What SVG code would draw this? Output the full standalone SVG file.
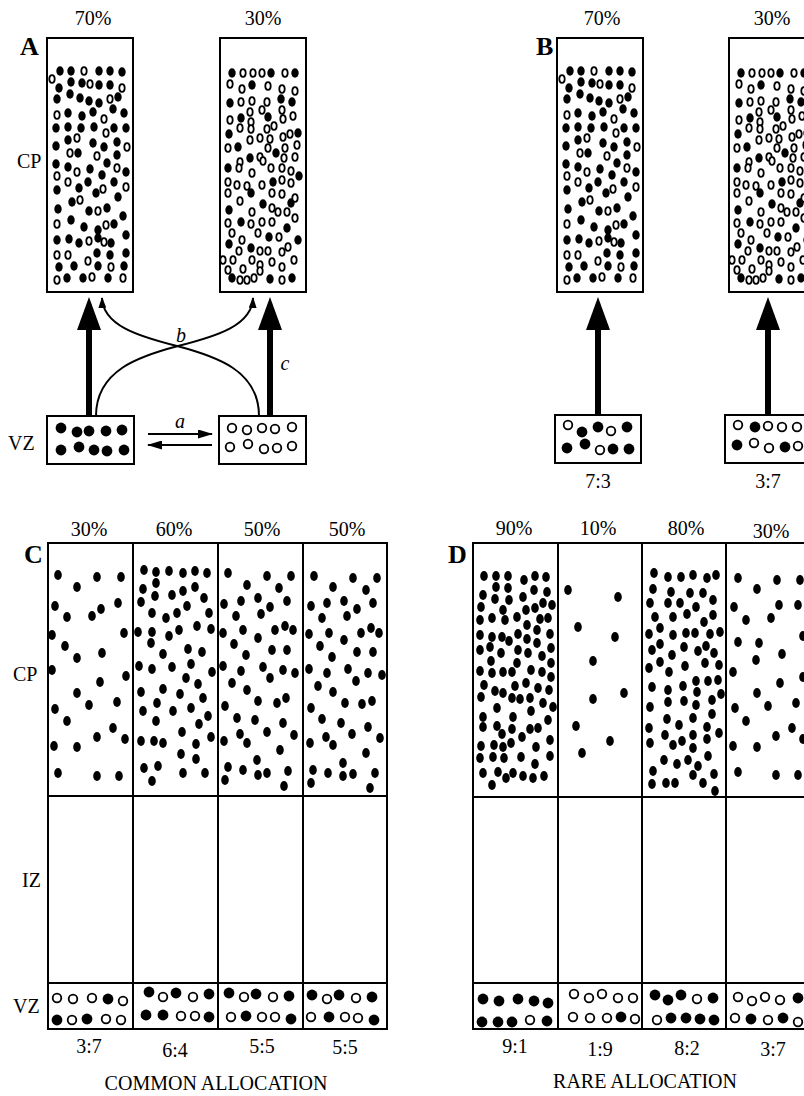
<svg xmlns="http://www.w3.org/2000/svg" xmlns:xlink="http://www.w3.org/1999/xlink" width="804" height="1096" viewBox="0 0 804 1096">
<style>
text{font-family:"Liberation Serif","Times New Roman",serif;font-size:20px;fill:#000}
.lab{font-weight:bold;font-size:26px}
.it{font-style:italic}
.m{text-anchor:middle}
.box{fill:#fff;stroke:#000;stroke-width:2}
.ln{stroke:#000;stroke-width:2;fill:none}
.thick{stroke:#000;stroke-width:6;fill:none}
</style>
<defs>
<!-- cortical plate cells: filled = one lineage, open = other lineage -->
<ellipse id="f" rx="3.7" ry="4.7" fill="#000"/>
<ellipse id="o" rx="2.7" ry="3.8" fill="#fff" stroke="#000" stroke-width="1.8"/>
<!-- cortical plate cells in panels C and D -->
<ellipse id="g" rx="3.8" ry="4.9" fill="#000"/>
<!-- ventricular zone progenitors -->
<circle id="F" r="5.4" fill="#000"/>
<circle id="O" r="4.3" fill="#fff" stroke="#000" stroke-width="1.8"/>
<marker id="big" viewBox="0 0 33 24" refX="0" refY="12" markerUnits="userSpaceOnUse" markerWidth="33" markerHeight="24" orient="auto">
<path d="M0,0 L33,12 L0,24 z" fill="#000"/>
</marker>
<marker id="thin" viewBox="0 0 11 8" refX="10" refY="4" markerUnits="userSpaceOnUse" markerWidth="11" markerHeight="8" orient="auto">
<path d="M0,0 L11,4 L0,8 z" fill="#000"/>
</marker>
<marker id="mid" viewBox="0 0 15 9" refX="14" refY="4.5" markerUnits="userSpaceOnUse" markerWidth="15" markerHeight="9" orient="auto">
<path d="M0,0 L15,4.5 L0,9 z" fill="#000"/>
</marker>
</defs>
<rect width="804" height="1096" fill="#fff"/>

<!-- ===== Panel A ===== -->
<g id="A-labels">
<text x="20" y="55" class="lab">A</text>
<text x="93" y="25" class="m">70%</text>
<text x="263" y="25" class="m">30%</text>
<text x="17" y="168" font-size="19">CP</text>
<text x="8" y="450" font-size="21">VZ</text>
</g>

<g id="cpA1">
<rect class="box" x="47" y="38" width="86" height="254"/>
<use href="#f" x="60" y="71"/><use href="#f" x="71" y="71"/><use href="#f" x="99" y="71"/><use href="#f" x="110" y="71"/><use href="#f" x="122" y="72"/>
<use href="#f" x="71" y="82"/><use href="#f" x="82" y="83"/><use href="#f" x="99" y="85"/><use href="#f" x="110" y="85"/><use href="#f" x="59" y="88"/><use href="#f" x="70" y="94"/>
<use href="#f" x="57" y="99"/><use href="#f" x="80" y="98"/><use href="#f" x="89" y="101"/><use href="#f" x="99" y="103"/><use href="#f" x="118" y="97"/><use href="#f" x="113" y="109"/>
<use href="#f" x="68" y="113"/><use href="#f" x="82" y="116"/><use href="#f" x="93" y="112"/><use href="#f" x="124" y="113"/>
<use href="#f" x="56" y="128"/><use href="#f" x="68" y="127"/><use href="#f" x="81" y="128"/><use href="#f" x="94" y="127"/><use href="#f" x="114" y="128"/><use href="#f" x="126" y="128"/>
<use href="#f" x="68" y="140"/><use href="#f" x="56" y="146"/><use href="#f" x="93" y="143"/><use href="#f" x="104" y="147"/><use href="#f" x="117" y="142"/><use href="#f" x="78" y="153"/><use href="#f" x="117" y="155"/>
<use href="#f" x="56" y="164"/><use href="#f" x="68" y="167"/><use href="#f" x="90" y="169"/><use href="#f" x="107" y="163"/><use href="#f" x="126" y="172"/>
<use href="#f" x="88" y="182"/><use href="#f" x="102" y="175"/><use href="#f" x="114" y="182"/><use href="#f" x="57" y="190"/><use href="#f" x="79" y="188"/><use href="#f" x="96" y="193"/>
<use href="#f" x="72" y="202"/><use href="#f" x="118" y="197"/><use href="#f" x="58" y="209"/><use href="#f" x="89" y="211"/><use href="#f" x="107" y="208"/><use href="#f" x="123" y="216"/>
<use href="#f" x="71" y="220"/><use href="#f" x="84" y="227"/><use href="#f" x="98" y="230"/><use href="#f" x="114" y="224"/><use href="#f" x="126" y="235"/>
<use href="#f" x="57" y="240"/><use href="#f" x="69" y="239"/><use href="#f" x="79" y="243"/><use href="#f" x="98" y="238"/><use href="#f" x="111" y="243"/>
<use href="#f" x="97" y="253"/><use href="#f" x="110" y="255"/><use href="#f" x="126" y="253"/><use href="#f" x="59" y="267"/><use href="#f" x="74" y="266"/><use href="#f" x="98" y="266"/><use href="#f" x="124" y="266"/>
<use href="#f" x="67" y="278"/><use href="#f" x="83" y="278"/><use href="#f" x="108" y="278"/>
<use href="#o" x="84" y="71"/><use href="#o" x="52" y="79"/><use href="#o" x="90" y="84"/><use href="#o" x="122" y="88"/><use href="#o" x="110" y="99"/>
<use href="#o" x="57" y="115"/><use href="#o" x="104" y="119"/><use href="#o" x="106" y="133"/><use href="#o" x="77" y="138"/><use href="#o" x="127" y="147"/>
<use href="#o" x="70" y="153"/><use href="#o" x="97" y="156"/><use href="#o" x="117" y="168"/><use href="#o" x="57" y="176"/><use href="#o" x="77" y="172"/>
<use href="#o" x="68" y="182"/><use href="#o" x="126" y="187"/><use href="#o" x="103" y="189"/><use href="#o" x="80" y="200"/><use href="#o" x="98" y="211"/>
<use href="#o" x="57" y="224"/><use href="#o" x="106" y="225"/><use href="#o" x="89" y="241"/><use href="#o" x="104" y="242"/><use href="#o" x="57" y="255"/>
<use href="#o" x="68" y="255"/><use href="#o" x="88" y="261"/><use href="#o" x="111" y="267"/><use href="#o" x="57" y="280"/><use href="#o" x="92" y="277"/><use href="#o" x="123" y="278"/>
</g>

<g id="cpA2">
<rect class="box" x="220" y="38" width="86" height="254"/>
<use href="#f" x="232" y="73"/><use href="#f" x="271" y="73"/><use href="#f" x="295" y="73"/><use href="#f" x="252" y="85"/><use href="#f" x="230" y="103"/><use href="#f" x="281" y="99"/>
<use href="#f" x="292" y="102"/><use href="#f" x="241" y="118"/><use href="#f" x="268" y="117"/><use href="#f" x="229" y="134"/><use href="#f" x="298" y="133"/><use href="#f" x="238" y="147"/>
<use href="#f" x="276" y="153"/><use href="#f" x="250" y="158"/><use href="#f" x="228" y="168"/><use href="#f" x="299" y="176"/><use href="#f" x="273" y="182"/><use href="#f" x="251" y="193"/>
<use href="#f" x="291" y="203"/><use href="#f" x="263" y="204"/><use href="#f" x="229" y="210"/><use href="#f" x="241" y="222"/><use href="#f" x="287" y="228"/><use href="#f" x="269" y="237"/>
<use href="#f" x="298" y="240"/><use href="#f" x="229" y="244"/><use href="#f" x="251" y="248"/><use href="#f" x="232" y="278"/><use href="#f" x="270" y="279"/><use href="#f" x="292" y="278"/>
<use href="#o" x="243" y="73"/><use href="#o" x="253" y="73"/><use href="#o" x="262" y="73"/><use href="#o" x="285" y="73"/><use href="#o" x="230" y="84"/><use href="#o" x="242" y="89"/>
<use href="#o" x="268" y="86"/><use href="#o" x="282" y="89"/><use href="#o" x="295" y="91"/><use href="#o" x="241" y="102"/><use href="#o" x="252" y="101"/><use href="#o" x="267" y="102"/>
<use href="#o" x="250" y="112"/><use href="#o" x="262" y="110"/><use href="#o" x="282" y="110"/><use href="#o" x="230" y="120"/><use href="#o" x="251" y="122"/><use href="#o" x="283" y="119"/>
<use href="#o" x="293" y="116"/><use href="#o" x="240" y="128"/><use href="#o" x="251" y="129"/><use href="#o" x="267" y="129"/><use href="#o" x="274" y="126"/><use href="#o" x="283" y="137"/>
<use href="#o" x="290" y="134"/><use href="#o" x="250" y="140"/><use href="#o" x="260" y="138"/><use href="#o" x="270" y="139"/><use href="#o" x="228" y="148"/><use href="#o" x="268" y="148"/>
<use href="#o" x="285" y="148"/><use href="#o" x="297" y="145"/><use href="#o" x="260" y="157"/><use href="#o" x="240" y="162"/><use href="#o" x="263" y="161"/><use href="#o" x="284" y="158"/>
<use href="#o" x="295" y="157"/><use href="#o" x="239" y="168"/><use href="#o" x="252" y="173"/><use href="#o" x="271" y="168"/><use href="#o" x="282" y="168"/><use href="#o" x="291" y="171"/>
<use href="#o" x="228" y="182"/><use href="#o" x="237" y="185"/><use href="#o" x="247" y="186"/><use href="#o" x="262" y="185"/><use href="#o" x="282" y="180"/><use href="#o" x="291" y="183"/>
<use href="#o" x="228" y="193"/><use href="#o" x="272" y="193"/><use href="#o" x="282" y="194"/><use href="#o" x="295" y="198"/><use href="#o" x="240" y="201"/><use href="#o" x="272" y="208"/>
<use href="#o" x="252" y="212"/><use href="#o" x="278" y="212"/><use href="#o" x="287" y="212"/><use href="#o" x="295" y="218"/><use href="#o" x="262" y="222"/><use href="#o" x="272" y="222"/>
<use href="#o" x="251" y="224"/><use href="#o" x="228" y="223"/><use href="#o" x="232" y="233"/><use href="#o" x="242" y="240"/><use href="#o" x="258" y="233"/><use href="#o" x="279" y="237"/>
<use href="#o" x="239" y="251"/><use href="#o" x="260" y="251"/><use href="#o" x="268" y="251"/><use href="#o" x="282" y="252"/><use href="#o" x="288" y="247"/><use href="#o" x="223" y="260"/>
<use href="#o" x="233" y="260"/><use href="#o" x="252" y="260"/><use href="#o" x="260" y="265"/><use href="#o" x="272" y="262"/><use href="#o" x="282" y="267"/><use href="#o" x="294" y="260"/>
<use href="#o" x="228" y="270"/><use href="#o" x="243" y="269"/><use href="#o" x="260" y="271"/><use href="#o" x="240" y="280"/><use href="#o" x="247" y="280"/><use href="#o" x="254" y="278"/><use href="#o" x="282" y="280"/>
</g>

<g id="vzA1">
<rect class="box" x="47" y="416" width="87" height="48"/>
<use href="#F" x="61" y="428"/><use href="#F" x="77" y="432"/><use href="#F" x="89" y="431"/><use href="#F" x="106" y="431"/><use href="#F" x="122" y="430"/>
<use href="#F" x="61" y="450"/><use href="#F" x="79" y="447"/><use href="#F" x="94" y="450"/><use href="#F" x="107" y="451"/><use href="#F" x="124" y="450"/>
</g>
<g id="vzA2">
<rect class="box" x="219" y="416" width="87" height="48"/>
<use href="#O" x="232" y="428"/><use href="#O" x="247" y="430"/><use href="#O" x="262" y="428"/><use href="#O" x="275" y="429"/><use href="#O" x="292" y="427"/>
<use href="#O" x="230" y="447"/><use href="#O" x="248" y="444"/><use href="#O" x="264" y="449"/><use href="#O" x="277" y="448"/><use href="#O" x="292" y="446"/>
</g>

<!-- ===== Panel B ===== -->
<g id="cpB1"><use href="#cpA1" transform="translate(510,0)"/></g>
<g id="cpB2"><use href="#cpA2" transform="translate(509,0)"/></g>
<g id="vzB1">
<rect class="box" x="555" y="415" width="86" height="48"/>
<use href="#O" x="568" y="425"/><use href="#F" x="582" y="432"/><use href="#F" x="598" y="427"/><use href="#O" x="611" y="431"/><use href="#F" x="627" y="427"/>
<use href="#F" x="567" y="448"/><use href="#F" x="585" y="444"/><use href="#O" x="600" y="450"/><use href="#F" x="613" y="449"/><use href="#F" x="629" y="449"/>
</g>
<g id="vzB2">
<rect class="box" x="725" y="415" width="86" height="48"/>
<use href="#O" x="738" y="425"/><use href="#F" x="755" y="427"/><use href="#O" x="768" y="426"/><use href="#O" x="782" y="427"/><use href="#O" x="797" y="427"/>
<use href="#F" x="737" y="445"/><use href="#O" x="754" y="443"/><use href="#O" x="769" y="448"/><use href="#F" x="785" y="447"/><use href="#O" x="798" y="446"/>
</g>
<g id="B-labels">
<text x="536" y="55" class="lab">B</text>
<text x="602" y="25" class="m">70%</text>
<text x="772" y="25" class="m">30%</text>
<text x="598" y="488" class="m" font-size="22">7:3</text>
<text x="768" y="488" class="m" font-size="22">3:7</text>
</g>

<!-- ===== Connectors ===== -->
<g id="connectors">
<path class="thick" d="M89,416 V330" marker-end="url(#big)"/>
<path class="thick" d="M270,416 V330" marker-end="url(#big)"/>
<path class="ln" d="M96,416 C96,370 140,356 178,346 C218,336 252,325 253,298" marker-end="url(#thin)"/>
<path class="ln" d="M259,416 C259,370 215,356 177,346 C137,336 103,325 102,298" marker-end="url(#thin)"/>
<path class="ln" d="M148,434 H212" marker-end="url(#mid)"/>
<path class="ln" d="M212,445 H148" marker-end="url(#mid)"/>
<path class="thick" d="M598,415 V330" marker-end="url(#big)"/>
<path class="thick" d="M768,415 V330" marker-end="url(#big)"/>
<text x="180" y="428" class="m it">a</text>
<text x="181" y="342" class="m it">b</text>
<text x="285" y="370" class="m it">c</text>
</g>

<!-- ===== Panel C ===== -->
<g id="C-labels">
<text x="24" y="563" class="lab">C</text>
<text x="89" y="536" class="m">30%</text>
<text x="174" y="536" class="m">60%</text>
<text x="262" y="536" class="m">50%</text>
<text x="347" y="536" class="m">50%</text>
<text x="13" y="681" font-size="19">CP</text>
<text x="22" y="887" font-size="19">IZ</text>
<text x="13" y="1013">VZ</text>
<text x="89" y="1053" class="m">3:7</text>
<text x="175" y="1057" class="m">6:4</text>
<text x="262" y="1053" class="m">5:5</text>
<text x="345" y="1054" class="m">5:5</text>
<text x="216" y="1090" class="m" font-size="21">COMMON ALLOCATION</text>
</g>
<g id="C-frame">
<rect class="box" x="48" y="543" width="339" height="486"/>
<path class="ln" d="M133,543 V1029 M218,543 V1029 M303,543 V1029 M48,796 H387 M48,983 H387"/>
</g>
<g id="C1">
<use href="#g" x="58" y="575"/><use href="#g" x="77" y="587"/><use href="#g" x="97" y="577"/><use href="#g" x="121" y="577"/><use href="#g" x="55" y="606"/><use href="#g" x="67" y="617"/>
<use href="#g" x="92" y="616"/><use href="#g" x="101" y="609"/><use href="#g" x="118" y="603"/><use href="#g" x="52" y="635"/><use href="#g" x="65" y="646"/><use href="#g" x="77" y="658"/>
<use href="#g" x="102" y="653"/><use href="#g" x="124" y="633"/><use href="#g" x="52" y="670"/><use href="#g" x="100" y="682"/><use href="#g" x="126" y="676"/><use href="#g" x="77" y="693"/>
<use href="#g" x="89" y="705"/><use href="#g" x="117" y="702"/><use href="#g" x="55" y="709"/><use href="#g" x="67" y="721"/><use href="#g" x="113" y="728"/><use href="#g" x="97" y="737"/>
<use href="#g" x="125" y="739"/><use href="#g" x="54" y="746"/><use href="#g" x="77" y="747"/><use href="#g" x="58" y="773"/><use href="#g" x="97" y="776"/><use href="#g" x="119" y="776"/>
</g>
<g id="C2">
<use href="#g" x="144" y="570"/><use href="#g" x="156" y="572"/><use href="#g" x="169" y="571"/><use href="#g" x="183" y="573"/><use href="#g" x="195" y="571"/><use href="#g" x="207" y="573"/>
<use href="#g" x="156" y="583"/><use href="#g" x="143" y="589"/><use href="#g" x="155" y="596"/><use href="#g" x="172" y="595"/><use href="#g" x="183" y="591"/><use href="#g" x="195" y="587"/>
<use href="#g" x="204" y="598"/><use href="#g" x="141" y="602"/><use href="#g" x="187" y="606"/><use href="#g" x="152" y="613"/><use href="#g" x="166" y="618"/><use href="#g" x="177" y="613"/>
<use href="#g" x="209" y="613"/><use href="#g" x="138" y="632"/><use href="#g" x="152" y="632"/><use href="#g" x="169" y="636"/><use href="#g" x="179" y="630"/><use href="#g" x="197" y="626"/>
<use href="#g" x="211" y="629"/><use href="#g" x="151" y="643"/><use href="#g" x="163" y="654"/><use href="#g" x="188" y="649"/><use href="#g" x="202" y="652"/><use href="#g" x="139" y="666"/>
<use href="#g" x="152" y="669"/><use href="#g" x="172" y="667"/><use href="#g" x="191" y="664"/><use href="#g" x="186" y="678"/><use href="#g" x="212" y="672"/><use href="#g" x="141" y="692"/>
<use href="#g" x="163" y="689"/><use href="#g" x="180" y="694"/><use href="#g" x="198" y="684"/><use href="#g" x="203" y="698"/><use href="#g" x="143" y="711"/><use href="#g" x="157" y="703"/>
<use href="#g" x="173" y="711"/><use href="#g" x="191" y="708"/><use href="#g" x="208" y="716"/><use href="#g" x="156" y="721"/><use href="#g" x="199" y="724"/><use href="#g" x="182" y="732"/>
<use href="#g" x="211" y="737"/><use href="#g" x="141" y="741"/><use href="#g" x="154" y="741"/><use href="#g" x="163" y="743"/><use href="#g" x="196" y="744"/><use href="#g" x="181" y="754"/>
<use href="#g" x="196" y="759"/><use href="#g" x="144" y="768"/><use href="#g" x="158" y="766"/><use href="#g" x="183" y="773"/><use href="#g" x="205" y="773"/><use href="#g" x="152" y="781"/>
</g>
<g id="C3">
<use href="#g" x="228" y="573"/><use href="#g" x="247" y="585"/><use href="#g" x="267" y="576"/><use href="#g" x="291" y="576"/><use href="#g" x="279" y="588"/><use href="#g" x="224" y="604"/>
<use href="#g" x="241" y="601"/><use href="#g" x="258" y="598"/><use href="#g" x="270" y="607"/><use href="#g" x="287" y="601"/><use href="#g" x="236" y="616"/><use href="#g" x="261" y="614"/>
<use href="#g" x="223" y="633"/><use href="#g" x="243" y="630"/><use href="#g" x="258" y="638"/><use href="#g" x="275" y="630"/><use href="#g" x="285" y="626"/><use href="#g" x="293" y="630"/>
<use href="#g" x="234" y="644"/><use href="#g" x="246" y="655"/><use href="#g" x="272" y="650"/><use href="#g" x="287" y="650"/><use href="#g" x="223" y="666"/><use href="#g" x="241" y="671"/>
<use href="#g" x="263" y="667"/><use href="#g" x="283" y="670"/><use href="#g" x="295" y="673"/><use href="#g" x="232" y="683"/><use href="#g" x="247" y="690"/><use href="#g" x="270" y="678"/>
<use href="#g" x="258" y="701"/><use href="#g" x="277" y="703"/><use href="#g" x="286" y="698"/><use href="#g" x="225" y="706"/><use href="#g" x="237" y="718"/><use href="#g" x="255" y="720"/>
<use href="#g" x="283" y="723"/><use href="#g" x="240" y="734"/><use href="#g" x="247" y="743"/><use href="#g" x="267" y="732"/><use href="#g" x="294" y="735"/><use href="#g" x="224" y="741"/>
<use href="#g" x="280" y="750"/><use href="#g" x="257" y="760"/><use href="#g" x="228" y="767"/><use href="#g" x="243" y="770"/><use href="#g" x="258" y="775"/><use href="#g" x="267" y="773"/>
<use href="#g" x="288" y="771"/><use href="#g" x="225" y="780"/><use href="#g" x="284" y="786"/>
</g>
<g id="C4">
<use href="#g" x="314" y="576"/><use href="#g" x="333" y="587"/><use href="#g" x="353" y="578"/><use href="#g" x="377" y="578"/><use href="#g" x="366" y="590"/><use href="#g" x="311" y="606"/>
<use href="#g" x="327" y="603"/><use href="#g" x="344" y="601"/><use href="#g" x="357" y="609"/><use href="#g" x="373" y="603"/><use href="#g" x="322" y="618"/><use href="#g" x="347" y="616"/>
<use href="#g" x="309" y="634"/><use href="#g" x="329" y="633"/><use href="#g" x="344" y="640"/><use href="#g" x="361" y="633"/><use href="#g" x="371" y="628"/><use href="#g" x="379" y="633"/>
<use href="#g" x="320" y="646"/><use href="#g" x="332" y="657"/><use href="#g" x="357" y="652"/><use href="#g" x="373" y="652"/><use href="#g" x="309" y="669"/><use href="#g" x="327" y="673"/>
<use href="#g" x="348" y="669"/><use href="#g" x="368" y="673"/><use href="#g" x="382" y="675"/><use href="#g" x="318" y="686"/><use href="#g" x="333" y="692"/><use href="#g" x="356" y="681"/>
<use href="#g" x="345" y="703"/><use href="#g" x="362" y="704"/><use href="#g" x="372" y="701"/><use href="#g" x="311" y="708"/><use href="#g" x="322" y="719"/><use href="#g" x="341" y="723"/>
<use href="#g" x="368" y="727"/><use href="#g" x="326" y="737"/><use href="#g" x="333" y="745"/><use href="#g" x="352" y="734"/><use href="#g" x="380" y="738"/><use href="#g" x="310" y="743"/>
<use href="#g" x="366" y="753"/><use href="#g" x="343" y="763"/><use href="#g" x="313" y="770"/><use href="#g" x="328" y="773"/><use href="#g" x="343" y="776"/><use href="#g" x="353" y="774"/>
<use href="#g" x="375" y="773"/><use href="#g" x="311" y="783"/><use href="#g" x="370" y="788"/>
</g>
<g id="vzC">
<use href="#O" x="57" y="998"/><use href="#O" x="73" y="999"/><use href="#O" x="92" y="998"/><use href="#F" x="108" y="999"/><use href="#O" x="123" y="1001"/>
<use href="#F" x="57" y="1020"/><use href="#O" x="72" y="1020"/><use href="#F" x="87" y="1019"/><use href="#O" x="106" y="1019"/><use href="#O" x="121" y="1020"/>
<use href="#F" x="149" y="992"/><use href="#O" x="163" y="997"/><use href="#F" x="176" y="993"/><use href="#O" x="193" y="997"/><use href="#F" x="209" y="994"/>
<use href="#F" x="146" y="1015"/><use href="#F" x="163" y="1015"/><use href="#O" x="181" y="1016"/><use href="#O" x="195" y="1016"/><use href="#F" x="209" y="1017"/>
<use href="#F" x="229" y="993"/><use href="#O" x="244" y="997"/><use href="#F" x="256" y="994"/><use href="#O" x="273" y="997"/><use href="#F" x="289" y="996"/>
<use href="#O" x="231" y="1017"/><use href="#F" x="246" y="1016"/><use href="#O" x="262" y="1017"/><use href="#O" x="275" y="1017"/><use href="#F" x="291" y="1019"/>
<use href="#F" x="312" y="995"/><use href="#O" x="327" y="999"/><use href="#F" x="339" y="995"/><use href="#O" x="356" y="998"/><use href="#F" x="372" y="997"/>
<use href="#O" x="311" y="1017"/><use href="#F" x="329" y="1017"/><use href="#O" x="345" y="1017"/><use href="#O" x="358" y="1018"/><use href="#F" x="374" y="1020"/>
</g>

<!-- ===== Panel D ===== -->
<g id="D-labels">
<text x="448" y="563" class="lab">D</text>
<text x="514" y="535" class="m">90%</text>
<text x="598" y="535" class="m">10%</text>
<text x="686" y="535" class="m">80%</text>
<text x="771" y="538" class="m">30%</text>
<text x="515" y="1053" class="m">9:1</text>
<text x="600" y="1056" class="m">1:9</text>
<text x="687" y="1055" class="m">8:2</text>
<text x="773" y="1056" class="m">3:7</text>
<text x="645" y="1088" class="m" font-size="21">RARE ALLOCATION</text>
</g>
<g id="D-frame">
<rect class="box" x="473" y="543" width="338" height="486"/>
<path class="ln" d="M558,543 V1029 M642,543 V1029 M726,543 V1029 M473,797 H811 M473,983 H811"/>
</g>
<g id="D1">
<use href="#g" x="484" y="576"/><use href="#g" x="496" y="576"/><use href="#g" x="508" y="576"/><use href="#g" x="524" y="580"/><use href="#g" x="535" y="576"/><use href="#g" x="546" y="577"/>
<use href="#g" x="496" y="587"/><use href="#g" x="508" y="588"/><use href="#g" x="534" y="590"/><use href="#g" x="547" y="592"/><use href="#g" x="483" y="595"/><use href="#g" x="495" y="599"/>
<use href="#g" x="509" y="600"/><use href="#g" x="523" y="597"/><use href="#g" x="543" y="603"/><use href="#g" x="552" y="605"/><use href="#g" x="481" y="607"/><use href="#g" x="503" y="610"/>
<use href="#g" x="526" y="610"/><use href="#g" x="535" y="608"/><use href="#g" x="480" y="620"/><use href="#g" x="492" y="618"/><use href="#g" x="505" y="620"/><use href="#g" x="517" y="617"/>
<use href="#g" x="540" y="619"/><use href="#g" x="548" y="618"/><use href="#g" x="527" y="625"/><use href="#g" x="537" y="630"/><use href="#g" x="480" y="635"/><use href="#g" x="492" y="637"/>
<use href="#g" x="502" y="637"/><use href="#g" x="509" y="641"/><use href="#g" x="518" y="634"/><use href="#g" x="527" y="639"/><use href="#g" x="550" y="634"/><use href="#g" x="480" y="650"/>
<use href="#g" x="490" y="647"/><use href="#g" x="501" y="653"/><use href="#g" x="518" y="650"/><use href="#g" x="528" y="653"/><use href="#g" x="537" y="643"/><use href="#g" x="551" y="648"/>
<use href="#g" x="491" y="661"/><use href="#g" x="517" y="663"/><use href="#g" x="542" y="656"/><use href="#g" x="551" y="663"/><use href="#g" x="480" y="671"/><use href="#g" x="492" y="673"/>
<use href="#g" x="503" y="672"/><use href="#g" x="512" y="672"/><use href="#g" x="531" y="670"/><use href="#g" x="542" y="672"/><use href="#g" x="551" y="677"/><use href="#g" x="484" y="685"/>
<use href="#g" x="495" y="691"/><use href="#g" x="503" y="693"/><use href="#g" x="515" y="686"/><use href="#g" x="526" y="683"/><use href="#g" x="538" y="688"/><use href="#g" x="549" y="690"/>
<use href="#g" x="481" y="697"/><use href="#g" x="512" y="698"/><use href="#g" x="520" y="699"/><use href="#g" x="530" y="698"/><use href="#g" x="543" y="703"/><use href="#g" x="553" y="707"/>
<use href="#g" x="497" y="708"/><use href="#g" x="513" y="717"/><use href="#g" x="531" y="711"/><use href="#g" x="483" y="717"/><use href="#g" x="483" y="727"/><use href="#g" x="497" y="726"/>
<use href="#g" x="502" y="734"/><use href="#g" x="512" y="729"/><use href="#g" x="522" y="737"/><use href="#g" x="530" y="729"/><use href="#g" x="538" y="728"/><use href="#g" x="548" y="720"/>
<use href="#g" x="481" y="746"/><use href="#g" x="494" y="745"/><use href="#g" x="503" y="747"/><use href="#g" x="511" y="743"/><use href="#g" x="536" y="747"/><use href="#g" x="550" y="740"/>
<use href="#g" x="480" y="758"/><use href="#g" x="493" y="757"/><use href="#g" x="504" y="758"/><use href="#g" x="521" y="757"/><use href="#g" x="535" y="764"/><use href="#g" x="550" y="756"/>
<use href="#g" x="483" y="773"/><use href="#g" x="498" y="772"/><use href="#g" x="506" y="778"/><use href="#g" x="513" y="773"/><use href="#g" x="523" y="776"/><use href="#g" x="533" y="778"/>
<use href="#g" x="544" y="776"/><use href="#g" x="492" y="785"/>
</g>
<g id="D2">
<use href="#g" x="568" y="590"/><use href="#g" x="618" y="597"/><use href="#g" x="578" y="627"/><use href="#g" x="615" y="637"/><use href="#g" x="593" y="661"/>
<use href="#g" x="624" y="693"/><use href="#g" x="593" y="699"/><use href="#g" x="576" y="726"/><use href="#g" x="610" y="741"/><use href="#g" x="582" y="753"/>
</g>
<g id="D3">
<use href="#g" x="654" y="573"/><use href="#g" x="668" y="577"/><use href="#g" x="681" y="577"/><use href="#g" x="693" y="575"/><use href="#g" x="707" y="578"/><use href="#g" x="716" y="575"/>
<use href="#g" x="653" y="589"/><use href="#g" x="671" y="592"/><use href="#g" x="690" y="593"/><use href="#g" x="703" y="593"/><use href="#g" x="650" y="603"/><use href="#g" x="668" y="603"/>
<use href="#g" x="680" y="603"/><use href="#g" x="696" y="607"/><use href="#g" x="713" y="600"/><use href="#g" x="655" y="617"/><use href="#g" x="673" y="617"/><use href="#g" x="687" y="614"/>
<use href="#g" x="704" y="622"/><use href="#g" x="713" y="615"/><use href="#g" x="649" y="634"/><use href="#g" x="660" y="628"/><use href="#g" x="673" y="635"/><use href="#g" x="686" y="633"/>
<use href="#g" x="695" y="633"/><use href="#g" x="710" y="634"/><use href="#g" x="720" y="632"/><use href="#g" x="652" y="650"/><use href="#g" x="660" y="644"/><use href="#g" x="672" y="655"/>
<use href="#g" x="684" y="647"/><use href="#g" x="698" y="651"/><use href="#g" x="706" y="646"/><use href="#g" x="714" y="653"/><use href="#g" x="649" y="668"/><use href="#g" x="660" y="662"/>
<use href="#g" x="669" y="672"/><use href="#g" x="685" y="666"/><use href="#g" x="705" y="663"/><use href="#g" x="719" y="665"/><use href="#g" x="652" y="687"/><use href="#g" x="668" y="690"/>
<use href="#g" x="683" y="686"/><use href="#g" x="696" y="681"/><use href="#g" x="708" y="681"/><use href="#g" x="718" y="680"/><use href="#g" x="697" y="692"/><use href="#g" x="721" y="694"/>
<use href="#g" x="650" y="707"/><use href="#g" x="668" y="702"/><use href="#g" x="684" y="701"/><use href="#g" x="696" y="705"/><use href="#g" x="712" y="700"/><use href="#g" x="667" y="719"/>
<use href="#g" x="679" y="725"/><use href="#g" x="693" y="718"/><use href="#g" x="712" y="714"/><use href="#g" x="649" y="728"/><use href="#g" x="665" y="735"/><use href="#g" x="673" y="745"/>
<use href="#g" x="682" y="741"/><use href="#g" x="693" y="735"/><use href="#g" x="707" y="727"/><use href="#g" x="719" y="733"/><use href="#g" x="650" y="743"/><use href="#g" x="693" y="748"/>
<use href="#g" x="707" y="739"/><use href="#g" x="664" y="760"/><use href="#g" x="677" y="764"/><use href="#g" x="688" y="760"/><use href="#g" x="698" y="766"/><use href="#g" x="708" y="756"/>
<use href="#g" x="653" y="771"/><use href="#g" x="693" y="775"/><use href="#g" x="714" y="774"/><use href="#g" x="652" y="784"/><use href="#g" x="666" y="783"/><use href="#g" x="675" y="783"/>
<use href="#g" x="703" y="783"/><use href="#g" x="715" y="791"/>
</g>
<g id="D4">
<use href="#g" x="738" y="578"/><use href="#g" x="757" y="589"/><use href="#g" x="777" y="580"/><use href="#g" x="800" y="580"/><use href="#g" x="734" y="607"/><use href="#g" x="746" y="620"/>
<use href="#g" x="771" y="618"/><use href="#g" x="779" y="605"/><use href="#g" x="798" y="605"/><use href="#g" x="738" y="642"/><use href="#g" x="759" y="643"/><use href="#g" x="756" y="660"/>
<use href="#g" x="782" y="654"/><use href="#g" x="803" y="636"/><use href="#g" x="733" y="672"/><use href="#g" x="780" y="683"/><use href="#g" x="803" y="677"/><use href="#g" x="757" y="693"/>
<use href="#g" x="768" y="706"/><use href="#g" x="796" y="703"/><use href="#g" x="735" y="708"/><use href="#g" x="746" y="721"/><use href="#g" x="776" y="736"/><use href="#g" x="792" y="728"/>
<use href="#g" x="803" y="739"/><use href="#g" x="733" y="746"/><use href="#g" x="757" y="747"/><use href="#g" x="738" y="772"/><use href="#g" x="776" y="775"/><use href="#g" x="798" y="775"/>
</g>
<g id="vzD">
<use href="#F" x="483" y="999"/><use href="#F" x="499" y="1001"/><use href="#F" x="518" y="999"/><use href="#F" x="534" y="1001"/><use href="#F" x="548" y="1003"/>
<use href="#F" x="482" y="1022"/><use href="#F" x="498" y="1022"/><use href="#F" x="512" y="1022"/><use href="#O" x="530" y="1020"/><use href="#F" x="547" y="1021"/>
<use href="#O" x="574" y="994"/><use href="#O" x="589" y="998"/><use href="#O" x="602" y="994"/><use href="#O" x="618" y="998"/><use href="#O" x="633" y="998"/>
<use href="#O" x="573" y="1017"/><use href="#O" x="590" y="1018"/><use href="#O" x="607" y="1018"/><use href="#F" x="621" y="1017"/><use href="#O" x="635" y="1019"/>
<use href="#F" x="655" y="995"/><use href="#F" x="668" y="1000"/><use href="#F" x="681" y="995"/><use href="#O" x="697" y="999"/><use href="#F" x="713" y="998"/>
<use href="#O" x="657" y="1020"/><use href="#F" x="671" y="1018"/><use href="#F" x="686" y="1018"/><use href="#F" x="700" y="1019"/><use href="#F" x="714" y="1020"/>
<use href="#O" x="738" y="997"/><use href="#O" x="752" y="1001"/><use href="#O" x="765" y="997"/><use href="#O" x="780" y="1000"/><use href="#F" x="798" y="998"/>
<use href="#O" x="735" y="1018"/><use href="#F" x="751" y="1019"/><use href="#O" x="768" y="1020"/><use href="#F" x="783" y="1018"/><use href="#O" x="798" y="1022"/>
</g>
</svg>
